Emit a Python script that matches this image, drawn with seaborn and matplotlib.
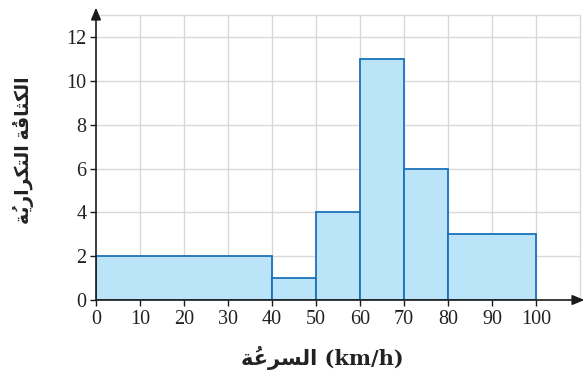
import numpy as np
import matplotlib
matplotlib.use("Agg")
import matplotlib.pyplot as plt
import seaborn as sns

# classes de vitesse (km/h) et densites
edges = [0, 40, 50, 60, 70, 80, 100]
densities = [2, 1, 4, 11, 6, 3]
xticks = list(range(0, 101, 10))
yticks = list(range(0, 13, 2))
xlabel_ar = "السرعةُ"
ylabel_ar = "الكثافةُ التكراريةُ"

# formes de presentation arabes : (isole, final, initial, median)
FORMS = {
    "ا": ("\uFE8D", "\uFE8E", None, None),
    "ر": ("\uFEAD", "\uFEAE", None, None),
    "ة": ("\uFE93", "\uFE94", None, None),
    "ل": ("\uFEDD", "\uFEDE", "\uFEDF", "\uFEE0"),
    "ك": ("\uFED9", "\uFEDA", "\uFEDB", "\uFEDC"),
    "ث": ("\uFE99", "\uFE9A", "\uFE9B", "\uFE9C"),
    "ف": ("\uFED1", "\uFED2", "\uFED3", "\uFED4"),
    "ت": ("\uFE95", "\uFE96", "\uFE97", "\uFE98"),
    "ي": ("\uFEF1", "\uFEF2", "\uFEF3", "\uFEF4"),
    "س": ("\uFEB1", "\uFEB2", "\uFEB3", "\uFEB4"),
    "ع": ("\uFEC9", "\uFECA", "\uFECB", "\uFECC"),
}


def shape_word(word):
    # lettres + diacritiques attaches
    units = []
    for ch in word:
        if ch in FORMS:
            units.append([ch, ""])
        elif units:
            units[-1][1] += ch
    out = []
    for i, (ch, mark) in enumerate(units):
        prev_joins = i > 0 and FORMS[units[i - 1][0]][2] is not None
        next_exists = i < len(units) - 1
        can_left = FORMS[ch][2] is not None
        if prev_joins and next_exists and can_left:
            g = FORMS[ch][3]
        elif prev_joins:
            g = FORMS[ch][1]
        elif next_exists and can_left:
            g = FORMS[ch][2]
        else:
            g = FORMS[ch][0]
        out.append(g + mark)
    return "".join(reversed(out))


def shape(text):
    return " ".join(shape_word(w) for w in reversed(text.split(" ")))


sns.set_theme(style="white")
plt.rcParams["font.family"] = ["Liberation Serif", "DejaVu Sans"]

fig = plt.figure(figsize=(5.86, 3.84), dpi=100)
ax = fig.add_axes([96 / 586, 84 / 384, 490 / 586, 295 / 384])

mids = [(a + b) / 2 for a, b in zip(edges[:-1], edges[1:])]
sns.histplot(x=mids, weights=densities, bins=edges, stat="count",
             color="#bbe4f8", edgecolor="#1a73ba", linewidth=1.3,
             alpha=1, ax=ax, zorder=2)

# grille
ax.vlines(range(10, 111, 10), 0, 13, color="#d9d9d9", lw=1, zorder=0)
ax.hlines(list(range(2, 13, 2)) + [13], 0, 110, color="#d9d9d9", lw=1, zorder=0)

ax.set_xlim(0, 490 / 4.4)
ax.set_ylim(0, 295 / 21.9)
for s in ax.spines.values():
    s.set_visible(False)

arrow = dict(arrowstyle="-|>,head_length=0.6,head_width=0.25", color="#1a1a1a", lw=1.2,
             shrinkA=0, shrinkB=0)
ax.annotate("", xy=(111, 0), xytext=(0, 0), arrowprops=arrow, annotation_clip=False, zorder=5)
ax.annotate("", xy=(0, 13.35), xytext=(0, 0), arrowprops=arrow, annotation_clip=False, zorder=5)

ax.set_xticks(xticks)
ax.set_yticks(yticks)
ax.tick_params(axis="both", direction="out", length=4, width=1, color="#1a1a1a",
               labelsize=14.5, labelcolor="#222222", left=True, bottom=True, pad=3)
ax.set_xlabel("")
ax.set_ylabel("")

fig.text(322 / 586, 1 - 358 / 384, shape(xlabel_ar) + " (km/h)", ha="center", va="center",
         fontsize=15, fontweight="bold", color="#222222",
         family=["DejaVu Serif", "DejaVu Sans"])
fig.text(23 / 586, 1 - 150 / 384, shape(ylabel_ar), ha="center", va="center",
         rotation=90, fontsize=13.5, fontweight="bold", color="#222222")

fig.savefig("out.png", dpi=100)
